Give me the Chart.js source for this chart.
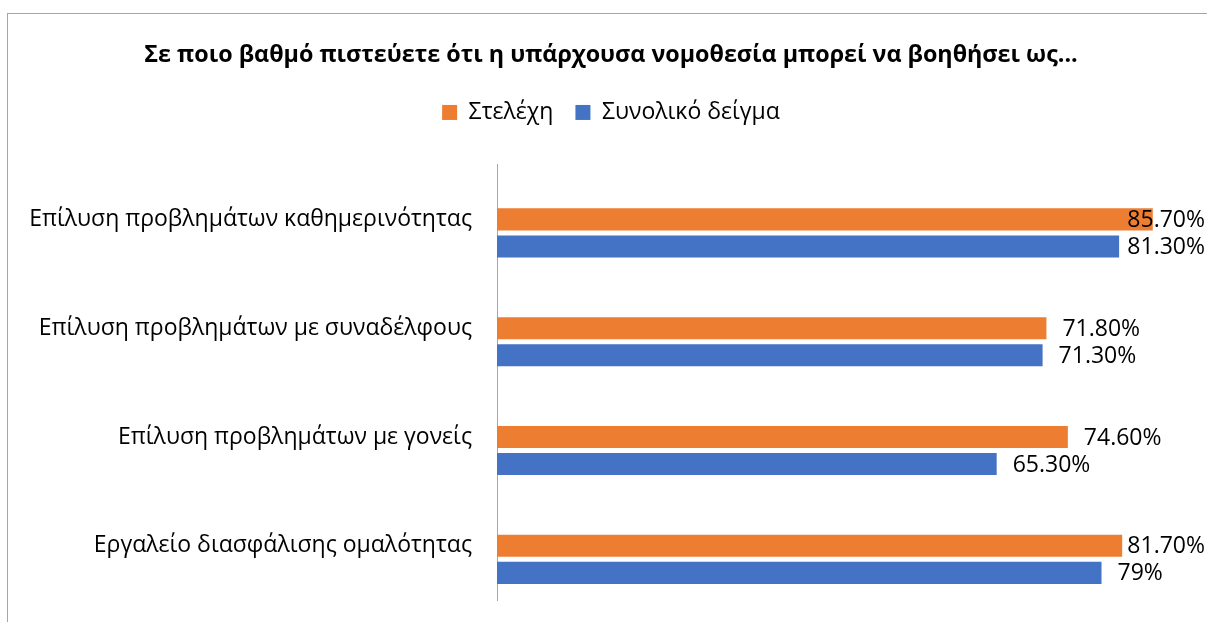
<!DOCTYPE html>
<html>
<head>
<meta charset="utf-8">
<script src="https://cdn.jsdelivr.net/npm/chart.js@4.4.1/dist/chart.umd.min.js"></script>
<style>
  html, body { margin: 0; padding: 0; width: 1207px; height: 622px; overflow: hidden; background: #fff; }
  #frame { position: absolute; left: 7px; top: 13px; width: 1206px; height: 640px; border: 1px solid #a6a6a6; background: #fff; }
  #wrap { position: absolute; left: 0; top: 0; width: 1206px; height: 625px; }
</style>
</head>
<body>
<div id="frame"><div id="wrap"><canvas id="chart"></canvas></div></div>
<script>
// ---- data ----
const categories = [
  'Επίλυση προβλημάτων καθημερινότητας',
  'Επίλυση προβλημάτων με συναδέλφους',
  'Επίλυση προβλημάτων με γονείς',
  'Εργαλείο διασφάλισης ομαλότητας'
];
const seriesNames = ['Στελέχη', 'Συνολικό δείγμα'];
const staffValues = [85.7, 71.8, 74.6, 81.7];
const totalValues = [81.3, 71.3, 65.3, 79];
const chartTitle = 'Σε ποιο βαθμό πιστεύετε ότι η υπάρχουσα νομοθεσία μπορεί να βοηθήσει ως...';

const FONT = '"Open Sans", "Noto Sans", sans-serif';

function fmt(v) {
  return (Number.isInteger(v) ? String(v) : v.toFixed(2)) + '%';
}

const valueLabels = {
  id: 'valueLabels',
  afterDatasetsDraw(chart) {
    const ctx = chart.ctx;
    ctx.save();
    ctx.font = '23px ' + FONT;
    ctx.fillStyle = '#000';
    ctx.textBaseline = 'middle';
    ctx.textAlign = 'left';
    const limit = chart.width - 9;
    chart.data.datasets.forEach((ds, di) => {
      if (ds.isSpacer) return;
      const meta = chart.getDatasetMeta(di);
      meta.data.forEach((bar, i) => {
        const v = ds.data[i];
        if (v == null) return;
        const txt = fmt(v);
        const w = ctx.measureText(txt).width;
        let x = bar.x + 16;
        if (x + w > limit) x = limit - w;
        ctx.fillText(txt, x, bar.y + 1);
      });
    });
    ctx.restore();
  }
};

new Chart(document.getElementById('chart'), {
  type: 'bar',
  data: {
    labels: categories,
    datasets: [
      { label: '', data: categories.map(() => null), isSpacer: true, backgroundColor: 'rgba(0,0,0,0)' },
      { label: seriesNames[0], data: staffValues, backgroundColor: '#ED7D31' },
      { label: seriesNames[1], data: totalValues, backgroundColor: '#4472C4' }
    ]
  },
  options: {
    indexAxis: 'y',
    responsive: true,
    maintainAspectRatio: false,
    animation: false,
    devicePixelRatio: 1,
    datasets: { bar: { categoryPercentage: 0.746, barPercentage: 0.815 } },
    layout: { padding: { left: 0, right: 0, top: 0, bottom: 0 } },
    plugins: {
      title: {
        display: true,
        text: chartTitle,
        color: '#000',
        font: { family: FONT, size: 23.3, weight: 'bold' },
        padding: { top: 27, bottom: 10 }
      },
      legend: {
        display: true,
        position: 'top',
        labels: {
          color: '#000',
          font: { family: FONT, size: 23 },
          boxWidth: 15,
          boxHeight: 15,
          padding: 22,
          filter: (item) => item.text !== ''
        }
      },
      tooltip: { enabled: false }
    },
    scales: {
      x: {
        display: true,
        position: 'top',
        min: 0,
        max: 93.7,
        afterFit: (scale) => { scale.height = 31; },
        grid: { display: false },
        border: { display: false },
        ticks: { display: false }
      },
      y: {
        afterFit: (scale) => { scale.width = 489; },
        grid: { display: true, color: 'rgba(0,0,0,0)', drawTicks: false },
        border: { display: true, color: '#a6a6a6', width: 1 },
        ticks: { color: '#000', font: { family: FONT, size: 23 }, padding: 25 }
      }
    }
  },
  plugins: [valueLabels]
});
</script>
</body>
</html>
